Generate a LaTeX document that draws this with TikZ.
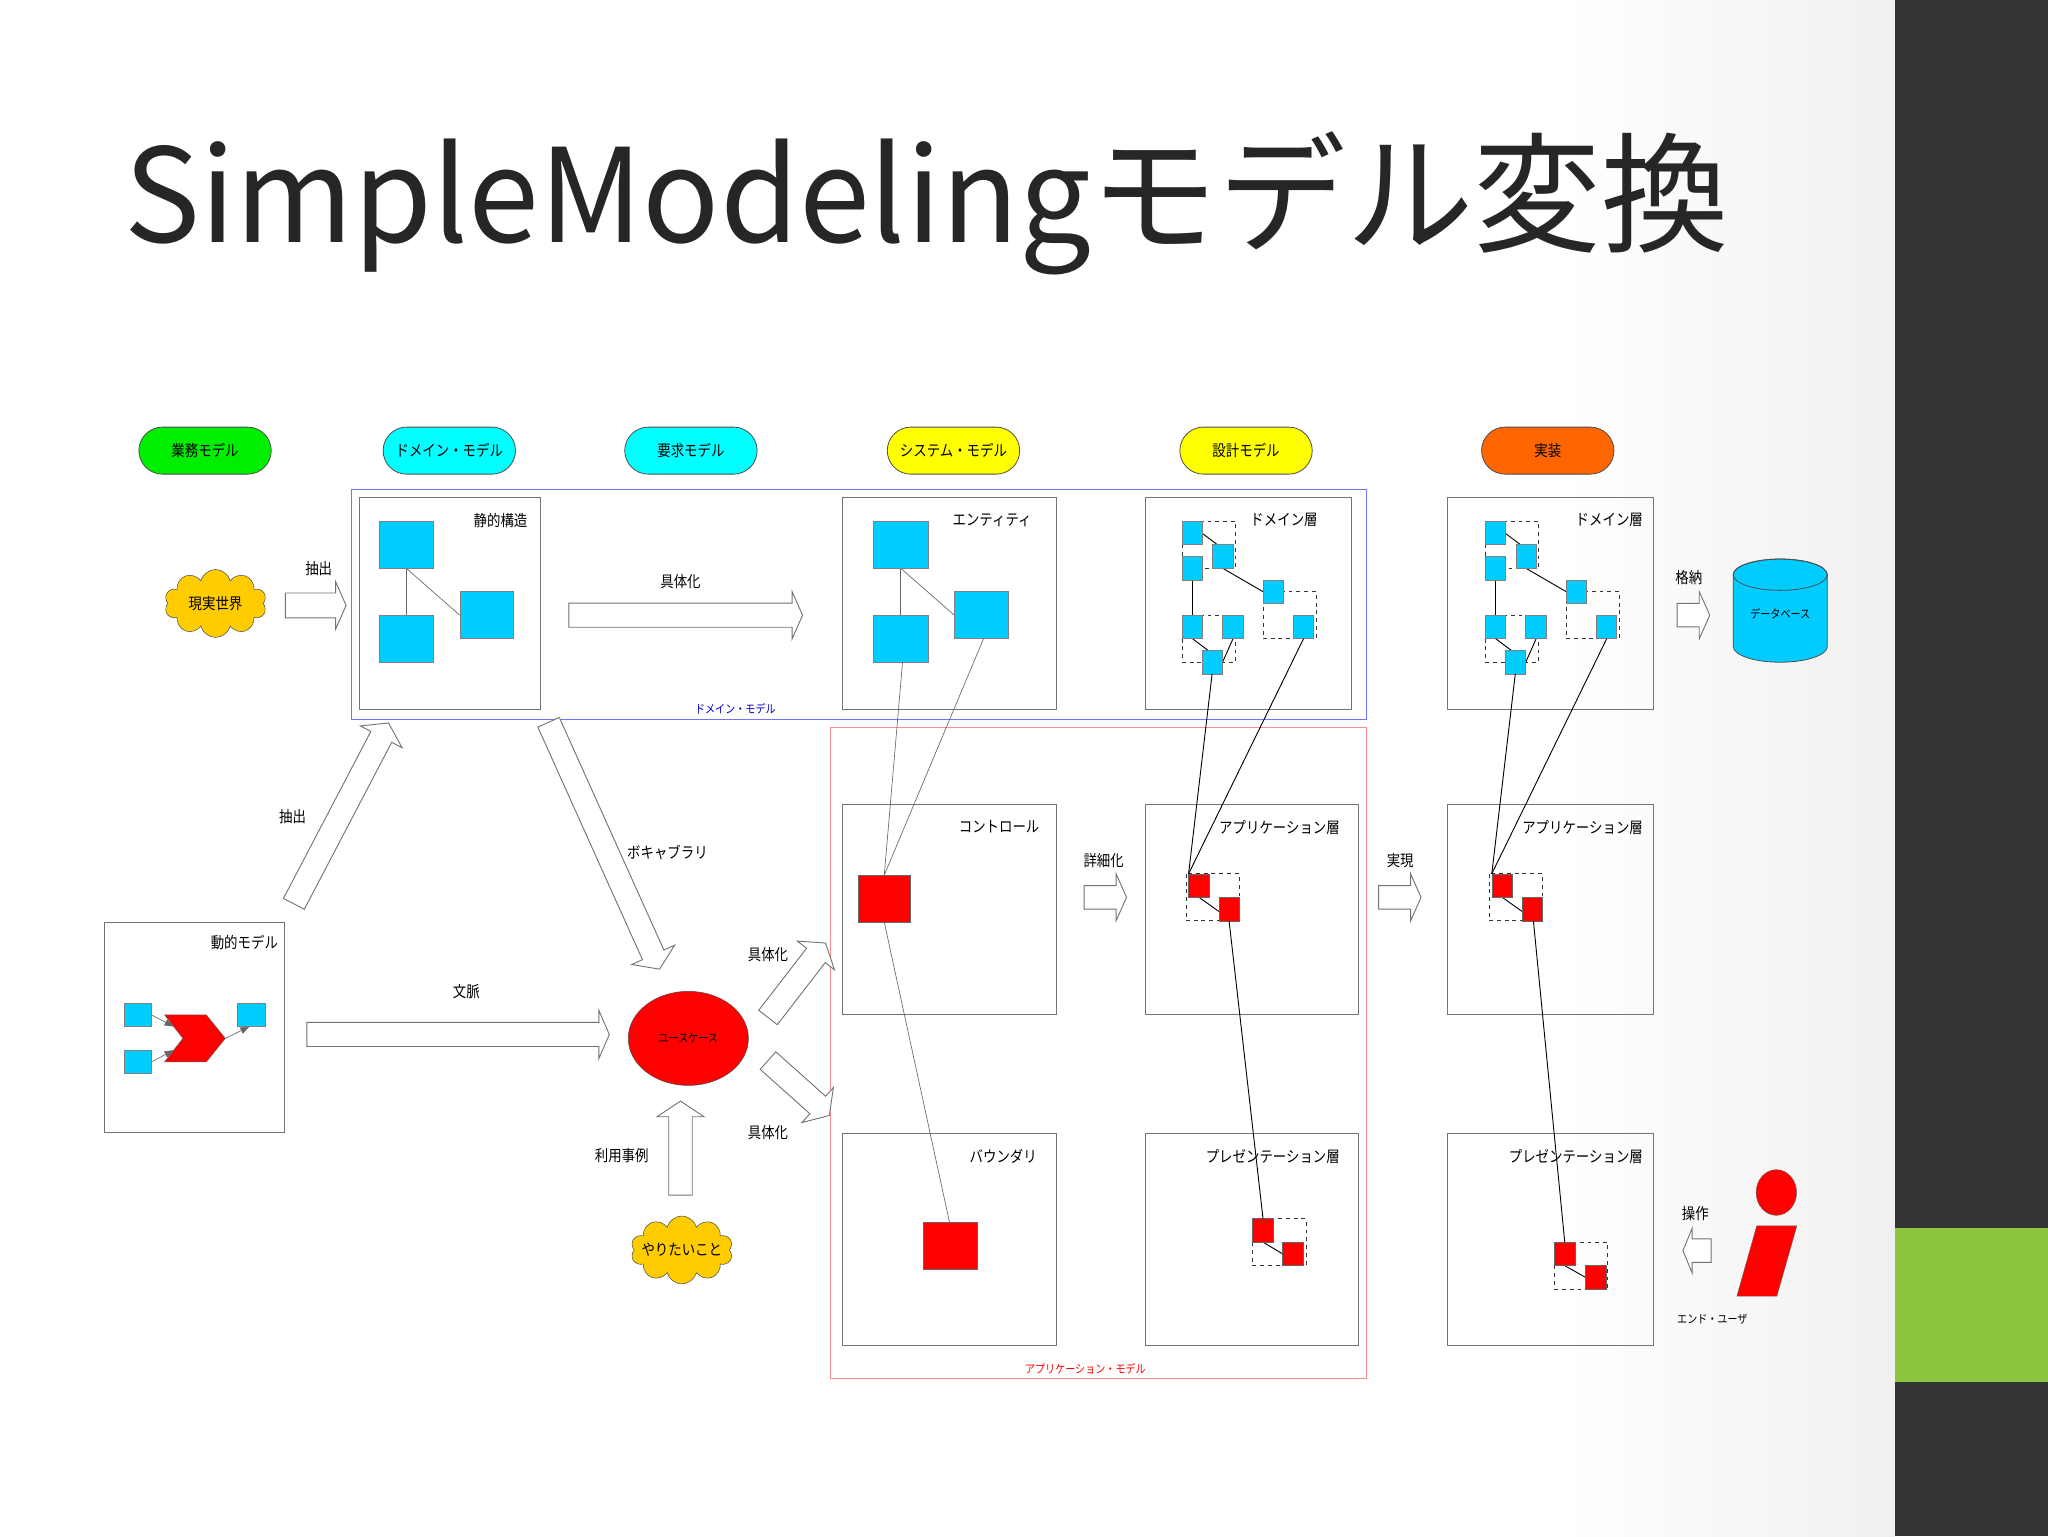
\documentclass[tikz,border=0pt]{standalone}
\usepackage{fontspec}
\setmainfont{Noto Sans CJK JP}
\newfontfamily\lblfont{Noto Sans CJK JP}[FakeStretch=0.86]
\usetikzlibrary{calc,shapes.symbols,shapes.geometric,shapes.misc,arrows.meta}
\definecolor{sqc}{HTML}{00CCFF}
\definecolor{pillc}{HTML}{00FFFF}
\definecolor{pillg}{HTML}{00EE00}
\definecolor{pilly}{HTML}{FFFF00}
\definecolor{pillo}{HTML}{FF6600}
\definecolor{cloudc}{HTML}{FFCC00}
\definecolor{darkbar}{HTML}{333333}
\definecolor{greenbar}{HTML}{8CC63F}
\tikzset{
  lbl/.style={font=\lblfont\fontsize{12}{12}\selectfont,inner sep=0pt},
  sm/.style={font=\lblfont\fontsize{9}{9}\selectfont,inner sep=0pt},
  box/.style={draw=black!55,line width=0.7bp},
  pill/.style={draw=black!70,line width=0.6bp,rounded rectangle,minimum width=108bp,minimum height=36bp,font=\lblfont\fontsize{12}{12}\selectfont},
  sq/.style={fill=sqc,draw=black!50,line width=0.4bp},
  rsq/.style={fill=red,draw=black!60,line width=0.4bp},
  dsh/.style={draw=black!80,dashed,line width=0.6bp},
  thin/.style={draw=black!60,line width=0.5bp},
  con/.style={draw=black,line width=0.7bp},
  barrow/.style={draw=black!55,fill=white,line width=0.7bp},
  cld/.style={cloud,cloud puffs=10,aspect=1.5,fill=cloudc,draw=black!70,minimum width=78bp,minimum height=52bp,inner sep=0pt},
}
\newcommand\blkarr[5]{%
  \coordinate (bh) at ($(#2)!#5!(#1)$);
  \draw[barrow] ($(#1)!#3!90:(#2)$) -- ($(bh)!#3!90:(#2)$) -- ($(bh)!#4!90:(#2)$) -- (#2)
   -- ($(bh)!#4!-90:(#2)$) -- ($(bh)!#3!-90:(#2)$) -- ($(#1)!#3!-90:(#2)$) -- cycle;}
\begin{document}
\begin{tikzpicture}[x=1bp,y=-1bp]
\useasboundingbox (0,0) rectangle (1568,1176);
% background
\fill[white] (0,0) rectangle (1200,1176);
\shade[left color=white,right color=black!6] (1200,0) rectangle (1451,1176);
\fill[darkbar] (1451,0) rectangle (1568,1176);
\fill[greenbar] (1451,940) rectangle (1568,1058);
% title
\node[anchor=base west,inner sep=0pt,text=black!85,font=\fontsize{100}{100}\selectfont,xscale=0.98] (title) at (95,186) {SimpleModelingモデル変換};
% pills
\node[pill,fill=pillg] (p1) at (157,345) {業務モデル};
\node[pill,fill=pillc] (p2) at (344,345) {ドメイン・モデル};
\node[pill,fill=pillc] (p3) at (529,345) {要求モデル};
\node[pill,fill=pilly] (p4) at (730,345) {システム・モデル};
\node[pill,fill=pilly] (p5) at (954,345) {設計モデル};
\node[pill,fill=pillo] (p6) at (1185,345) {実装};
% frames
\draw[draw=blue!55,line width=0.7bp] (269,375) rectangle (1046,551);
\node[sm,text=blue!80!black] (fdm) at (563,543) {ドメイン・モデル};
\draw[draw=red!45,line width=0.7bp] (636,557) rectangle (1046,1055);
\node[sm,text=red] (fam) at (831,1048) {アプリケーション・モデル};
% boxes
\draw[box] (275,381) rectangle (414,543); \node[lbl,anchor=north east] at (404,393) {静的構造};
\draw[box] (645,381) rectangle (809,543); \node[lbl,anchor=north east] at (790,393) {エンティティ};
\draw[box] (877,381) rectangle (1035,543); \node[lbl,anchor=north east] at (1009,393) {ドメイン層};
\draw[box] (1108,381) rectangle (1266,543); \node[lbl,anchor=north east] at (1258,393) {ドメイン層};
\draw[box] (645,616) rectangle (809,777); \node[lbl,anchor=north east] at (796,628) {コントロール};
\draw[box] (877,616) rectangle (1040,777); \node[lbl,anchor=north east] at (1026,628) {アプリケーション層};
\draw[box] (1108,616) rectangle (1266,777); \node[lbl,anchor=north east] at (1258,628) {アプリケーション層};
\draw[box] (645,868) rectangle (809,1030); \node[lbl,anchor=north east] at (794,880) {バウンダリ};
\draw[box] (877,868) rectangle (1040,1030); \node[lbl,anchor=north east] at (1026,880) {プレゼンテーション層};
\draw[box] (1108,868) rectangle (1266,1030); \node[lbl,anchor=north east] at (1258,880) {プレゼンテーション層};
\draw[box] (80,706) rectangle (218,867); \node[lbl,anchor=north east] at (213,716) {動的モデル};
% static structure & entity
\foreach \dx in {0,380}{
  \begin{scope}[xshift=\dx]
  \draw[thin] (311,435) -- (311,471);
  \draw[thin] (311,435) -- (352,471);
  \draw[sq] (290,399) rectangle (332,435);
  \draw[sq] (290,471) rectangle (332,507);
  \draw[sq] (352,453) rectangle (393,489);
  \end{scope}}
% design / impl domain layer
\foreach \dx in {0,233}{
  \begin{scope}[xshift=\dx]
  \draw[dsh] (905,399) rectangle (946,435);
  \draw[dsh] (967,453) rectangle (1008,489);
  \draw[dsh] (905,471) rectangle (946,507);
  \draw[con] (920,408) -- (932,417);
  \draw[con] (936,435) -- (967,453);
  \draw[con] (913,444) -- (913,471);
  \draw[con] (913,489) -- (925,498);
  \draw[con] (944,489) -- (936,507);
  \draw[sq] (905,399) rectangle (920.5,417);
  \draw[sq] (928.5,417) rectangle (944,435);
  \draw[sq] (905,426) rectangle (920.5,444);
  \draw[sq] (967,444) rectangle (982.5,462);
  \draw[sq] (990,471) rectangle (1005.5,489);
  \draw[sq] (905,471) rectangle (920.5,489);
  \draw[sq] (936,471) rectangle (951.5,489);
  \draw[sq] (920.5,498) rectangle (936,516);
  % app layer
  \draw[dsh] (908,669) rectangle (949,705);
  \draw[con] (918,687) -- (933.5,698);
  \draw[rsq] (910,669) rectangle (925.5,687);
  \draw[rsq] (933.5,687) rectangle (949,705);
  \draw[con] (928,516) -- (910,669);
  \draw[con] (998,489) -- (910,669);
  \end{scope}}
% presentation layers
\draw[dsh] (959,933) rectangle (1000,969);
\draw[con] (967,951) -- (982,960);
\draw[rsq] (959,933) rectangle (975,951);
\draw[rsq] (982,951) rectangle (998,969);
\draw[con] (941,705) -- (967,933);
\draw[dsh] (1190,951) rectangle (1231,987);
\draw[con] (1198,969) -- (1214,978);
\draw[rsq] (1190,951) rectangle (1206,969);
\draw[rsq] (1214,969) rectangle (1230,987);
\draw[con] (1174,705) -- (1198,951);
% control / boundary
\draw[rsq] (657,670) rectangle (697,706);
\draw[rsq] (707,936) rectangle (748,972);
\draw[thin] (691,507) -- (677,670);
\draw[thin] (753,489) -- (677,670);
\draw[thin] (677,706) -- (727,936);
% dynamic model
\draw[sq] (95,768) rectangle (116,786);
\draw[sq] (95,804) rectangle (116,822);
\draw[sq] (182,768) rectangle (203,786);
\draw[fill=red,draw=black!60,line width=0.4bp] (126,777) -- (158,777) -- (172.5,795) -- (158,813) -- (126,813) -- (140,795) -- cycle;
\draw[thin,-{Triangle[length=7bp,width=5bp]}] (116,777) -- (133,786);
\draw[thin,-{Triangle[length=7bp,width=5bp]}] (116,813) -- (133,804);
\draw[thin,-{Triangle[length=7bp,width=5bp]}] (172.5,795) -- (191,786);
% shapes
\node[cld] (real) at (165,462) {};
\node[lbl] at (real) {現実世界};
\node[cld] (want) at (522,957) {};
\node[lbl] at (want) {やりたいこと};
\node[ellipse,fill=red,draw=black!70,minimum width=92bp,minimum height=72bp,inner sep=0pt,font=\lblfont\fontsize{9}{9}\selectfont] (uc) at (527,795) {ユースケース};
\draw[fill=sqc,draw=black!70,line width=0.6bp] (1327,440) -- (1327,495) arc(180:0:36 and 12) -- (1399,440) arc(0:-180:36 and 12) -- cycle;
\draw[draw=black!70,line width=0.6bp] (1363,440) ellipse (36 and 12);
\node[sm] (db) at (1363,470) {データベース};
\fill[red] (1360,913) ellipse (15.5 and 17.5);
\draw[black!60,line width=0.3bp] (1360,913) ellipse (15.5 and 17.5);
\draw[fill=red,draw=black!60,line width=0.3bp] (1345,938.5) -- (1375.7,938.5) -- (1360.4,992.3) -- (1329.8,992.3) -- cycle;
\node[sm] (eu) at (1311,1010) {エンド・ユーザ};
% block arrows
\blkarr{218.5,463.5}{265,463.5}{9.5bp}{18bp}{8bp}
\node[lbl] at (244,435) {抽出};
\blkarr{435.5,471}{614.5,471}{9.2bp}{18bp}{8bp}
\node[lbl] at (521,445) {具体化};
\blkarr{235,792}{466.5,792}{9.2bp}{18.5bp}{8bp}
\node[lbl] at (357,759) {文脈};
\blkarr{225,692}{297.5,553.5}{9bp}{18bp}{12bp}
\node[lbl] at (224,625) {抽出};
\blkarr{420,553}{505,742}{9bp}{18bp}{12bp}
\node[lbl] at (511,653) {ボキャブラリ};
\blkarr{588,779}{632,722}{9bp}{18bp}{12bp}
\node[lbl] at (588,731) {具体化};
\blkarr{588,812}{635,854}{9bp}{18bp}{12bp}
\node[lbl] at (588,867) {具体化};
\blkarr{521,915}{521,843}{9bp}{18bp}{12bp}
\node[lbl] at (476,885) {利用事例};
\blkarr{830,687}{862.5,687}{9bp}{18bp}{8bp}
\node[lbl] at (845,659) {詳細化};
\blkarr{1055.5,687}{1088,687}{9bp}{18bp}{8bp}
\node[lbl] at (1072,659) {実現};
\blkarr{1284,471}{1309,471}{9bp}{18bp}{8bp}
\node[lbl] at (1293,442) {格納};
\blkarr{1310,957.5}{1288.5,957.5}{9bp}{17bp}{7bp}
\node[lbl] at (1298,929) {操作};
\end{tikzpicture}
\end{document}
